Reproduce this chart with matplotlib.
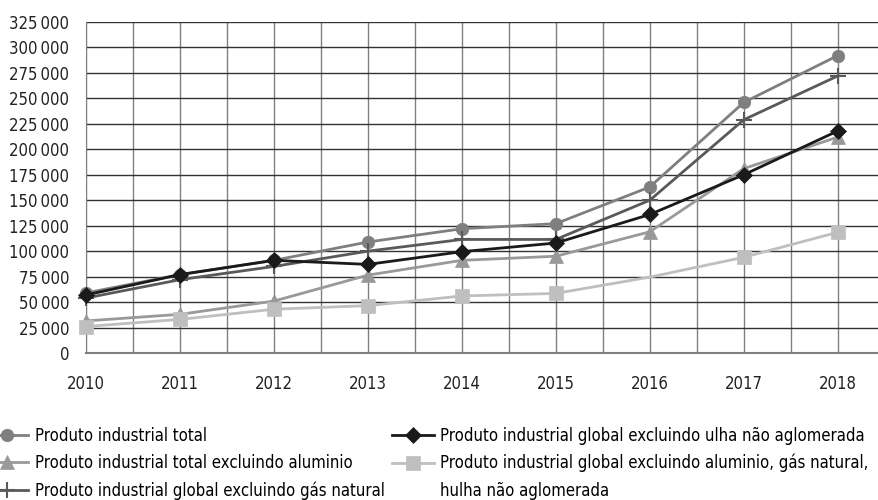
import numpy as np
import matplotlib
matplotlib.use("Agg")
import matplotlib.pyplot as plt
from matplotlib.lines import Line2D
from matplotlib.ticker import FuncFormatter, MultipleLocator

plt.rcParams['font.family'] = ['DejaVu Sans']
plt.rcParams['font.stretch'] = 'condensed'

anos = [2010, 2011, 2012, 2013, 2014, 2015, 2016, 2017, 2018]

total = [59000, 77000, 91000, 109000, 122000, 127000, 163000, 246000, 292000]
total_exc_aluminio = [31500, 38000, 51000, 76500, 91000, 95000, 119000, 181000, 212000]
global_exc_gas = [54000, 72000, 85000, 100000, 111500, 111500, 150000, 229000, 272000]
global_exc_hulha = [57000, 77000, 91000, 87000, 99500, 108000, 136000, 175000, 218000]
global_exc_tudo = [26000, 33000, 43000, 46500, 56000, 58500, 74500, 94000, 118500]

nomes = [
    "Produto industrial total",
    "Produto industrial total excluindo aluminio",
    "Produto industrial global excluindo gás natural",
    "Produto industrial global excluindo ulha não aglomerada",
    "Produto industrial global excluindo aluminio, gás natural,",
]
nome_cont = "hulha não aglomerada"

fig = plt.figure(figsize=(8.79, 5.0), dpi=100)
ax = fig.add_axes([0.098, 0.294, 0.902, 0.662])

series = [
    (total, '#7f7f7f', 'o', 9, None),
    (total_exc_aluminio, '#999999', '^', 10, None),
    (global_exc_gas, '#595959', '+', 12, None),
    (global_exc_hulha, '#1a1a1a', 'D', 8, None),
    (global_exc_tudo, '#bfbfbf', 's', 10, [0, 1, 2, 3, 4, 5, 7, 8]),
]

handles = []
for (vals, cor, mk, ms, every), nome in zip(series, nomes):
    h, = ax.plot(anos, vals, color=cor, lw=2.0, marker=mk, markersize=ms,
                 markeredgewidth=1.5 if mk == '+' else 0.5,
                 markeredgecolor=cor, markerfacecolor=cor,
                 markevery=every, clip_on=False, zorder=3, label=nome)
    handles.append(h)
# segunda linha do último rótulo, sem símbolo
handles.append(Line2D([], [], color='none', label=nome_cont))

ax.set_xlim(2010, 2018.44)
ax.set_ylim(0, 325000)
ax.yaxis.set_major_locator(MultipleLocator(25000))
ax.xaxis.set_major_locator(MultipleLocator(1))
ax.xaxis.set_minor_locator(MultipleLocator(0.5))
ax.yaxis.set_major_formatter(FuncFormatter(lambda v, p: f"{int(v):,}".replace(",", "\u2009")))

ax.grid(axis='y', color='#333333', lw=1.0, zorder=0)
ax.grid(axis='x', which='both', color='#808080', lw=1.0, zorder=0)
ax.set_axisbelow(True)

for s in ['top', 'right']:
    ax.spines[s].set_visible(False)
ax.spines['left'].set_color('#808080')
ax.spines['bottom'].set_color('#808080')
ax.spines['bottom'].set_linewidth(1.5)

ax.tick_params(axis='both', which='both', length=0, labelsize=12, colors='#222222')
ax.tick_params(axis='x', pad=16)
ax.tick_params(axis='y', pad=12)

# legenda em duas colunas por baixo do gráfico
fig.legend(handles=handles, loc='upper left', bbox_to_anchor=(-0.023, 0.16),
           ncol=2, frameon=False, fontsize=12, handlelength=2.5,
           columnspacing=0.45, labelspacing=0.55, handletextpad=0.4,
           borderaxespad=0)

fig.savefig("out.png", dpi=100)
